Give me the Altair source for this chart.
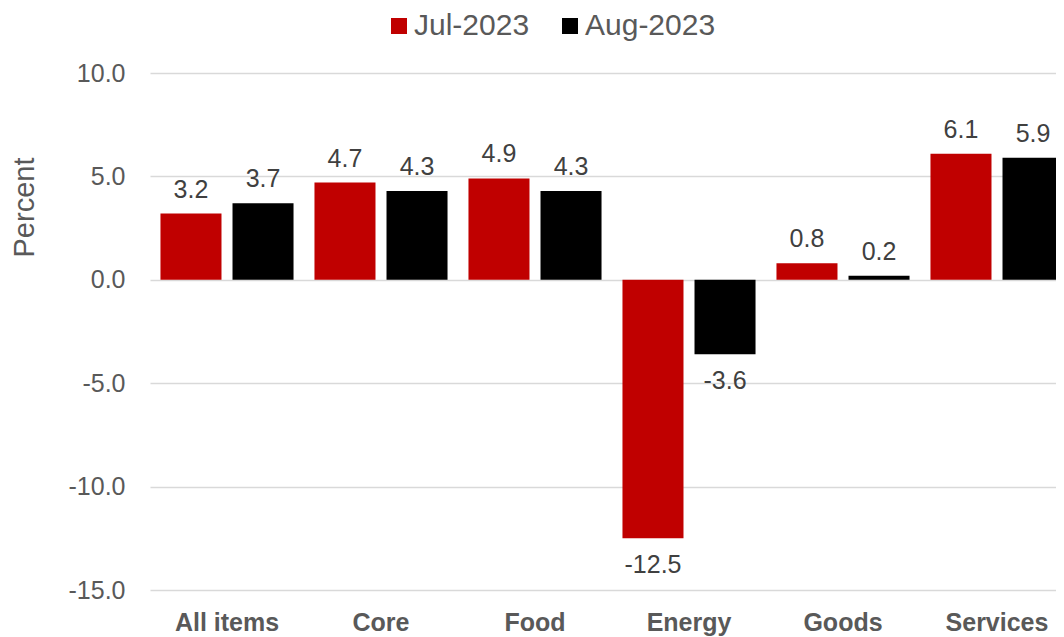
import altair as alt
import pandas as pd

categories = ["All items", "Core", "Food", "Energy", "Goods", "Services"]
series = ["Jul-2023", "Aug-2023"]
jul_values = [3.2, 4.7, 4.9, -12.5, 0.8, 6.1]
aug_values = [3.7, 4.3, 4.3, -3.6, 0.2, 5.9]
colors = ["#C00000", "#000000"]

rows = []
for c, j, a in zip(categories, jul_values, aug_values):
    rows.append({"category": c, "series": series[0], "value": j})
    rows.append({"category": c, "series": series[1], "value": a})
df = pd.DataFrame(rows)

FONT = "Liberation Sans"

x_axis = alt.Axis(
    title=None, labelFont=FONT, labelFontSize=25, labelFontWeight="bold",
    labelColor="#595959", ticks=False, tickSize=0, domain=False, grid=False,
    labelPadding=20, labelAngle=0,
)
y_axis = alt.Axis(
    title="Percent", values=[-15, -10, -5, 0, 5, 10], format=".1f",
    labelFont=FONT, labelFontSize=25, labelColor="#595959",
    ticks=False, tickSize=0, domain=False, labelPadding=25,
    gridColor="#D9D9D9", gridWidth=1.5,
    titleFont=FONT, titleFontSize=29, titleFontWeight="normal",
    titleColor="#595959", titleAngle=-90, titleX=-117, titleY=134,
    titleAlign="center", titleBaseline="alphabetic",
)
x_scale = alt.Scale(paddingInner=0.136, paddingOuter=0.068)
y_scale = alt.Scale(domain=[-15, 10], nice=False)
xoff = alt.XOffset("series:N", sort=series, scale=alt.Scale(paddingInner=0.153, paddingOuter=0))

bars = alt.Chart(df).mark_bar().encode(
    x=alt.X("category:N", sort=categories, scale=x_scale, axis=x_axis),
    xOffset=xoff,
    y=alt.Y("value:Q", scale=y_scale, axis=y_axis),
    color=alt.Color(
        "series:N", sort=series,
        scale=alt.Scale(domain=series, range=colors),
        legend=alt.Legend(
            title=None, orient="none", direction="horizontal",
            legendX=234, legendY=-62, padding=0,
            symbolType="square", symbolSize=256, symbolStrokeWidth=0,
            labelFont=FONT, labelFontSize=30, labelColor="#595959",
            labelOffset=0, columnPadding=25,
        ),
    ),
)

pos_labels = alt.Chart(df).transform_filter("datum.value >= 0").mark_text(
    font=FONT, fontSize=25, color="#404040", baseline="alphabetic", dy=-16
).encode(
    x=alt.X("category:N", sort=categories, scale=x_scale, axis=x_axis), xOffset=xoff,
    y=alt.Y("value:Q", scale=y_scale, axis=y_axis),
    text=alt.Text("value:Q", format=".1f"),
)

neg_labels = alt.Chart(df).transform_filter("datum.value < 0").mark_text(
    font=FONT, fontSize=25, color="#404040", baseline="top", dy=15
).encode(
    x=alt.X("category:N", sort=categories, scale=x_scale, axis=x_axis), xOffset=xoff,
    y=alt.Y("value:Q", scale=y_scale, axis=y_axis),
    text=alt.Text("value:Q", format=".1f"),
)

chart = alt.layer(bars, pos_labels, neg_labels).properties(
    width=924, height=517,
    autosize=alt.AutoSizeParams(type="none"),
    padding={"left": 142, "top": 65, "right": -18, "bottom": 47},
).configure(
    background="white",
    locale={"number": {"decimal": ".", "thousands": ",", "grouping": [3],
                       "currency": ["$", ""], "minus": "-"}},
).configure_view(stroke=None).configure_axisX(grid=False)

chart.save("out.html", embed_options={"renderer": "svg", "actions": False})
